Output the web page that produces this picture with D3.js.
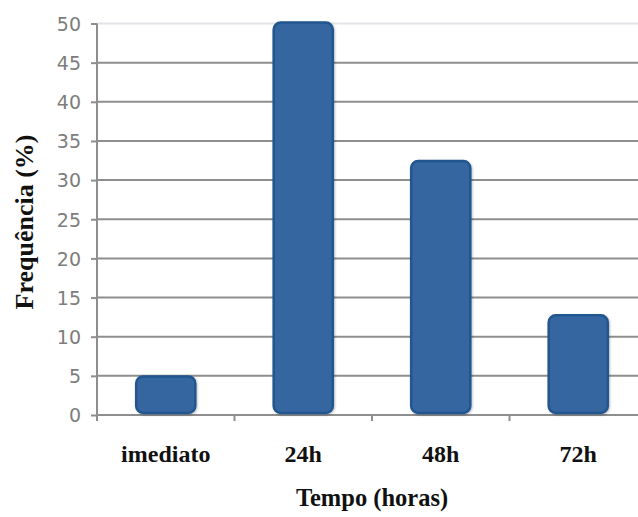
<!DOCTYPE html>
<html>
<head>
<meta charset="utf-8">
<script src="https://cdn.jsdelivr.net/npm/d3@7"></script>
<style>
  html, body { margin: 0; padding: 0; background: #ffffff; }
  svg { display: block; }
</style>
</head>
<body>
<svg id="chart" width="638" height="517"></svg>
<script>
// Frequency (%) by time after the event
const categories = ["imediato", "24h", "48h", "72h"];
const frequency = [4.8, 50, 32.3, 12.6];
const yTicks = [0, 5, 10, 15, 20, 25, 30, 35, 40, 45, 50];
const xTitle = "Tempo (horas)";
const yTitle = "Frequência (%)";

const svg = d3.select("#chart");

const plotLeft = 97, plotRight = 647, plotTop = 23.5, plotBottom = 415;

const x = d3.scaleBand()
  .domain(categories)
  .range([plotLeft, plotRight])
  .paddingInner(0.57)
  .paddingOuter(0.285);

const y = d3.scaleLinear()
  .domain([0, 50])
  .range([plotBottom, plotTop]);

const gridColor = "#8e8e8e";

// horizontal gridlines (top one is drawn faint)
svg.append("g")
  .selectAll("line")
  .data(yTicks.filter(d => d > 0))
  .join("line")
  .attr("x1", plotLeft)
  .attr("x2", plotRight)
  .attr("y1", d => y(d))
  .attr("y2", d => y(d))
  .attr("stroke", d => d === 50 ? "#e2e4e8" : gridColor)
  .attr("stroke-width", 2);

// y axis
const yAxis = svg.append("g")
  .attr("transform", `translate(${plotLeft},0)`)
  .call(d3.axisLeft(y).tickValues(yTicks).tickSize(6).tickPadding(10));
yAxis.select(".domain").attr("stroke", gridColor).attr("stroke-width", 2)
  .attr("d", `M0,${plotTop}V${plotBottom + 6}`);
yAxis.selectAll(".tick line").attr("stroke", gridColor).attr("stroke-width", 2);
yAxis.selectAll(".tick text")
  .attr("fill", "#7d7d7d")
  .style("font-family", "'DejaVu Sans', sans-serif")
  .style("font-size", "19px")
  .attr("dy", "0.36em");

// x axis baseline with separators between categories
const step = x.step();
svg.append("line")
  .attr("x1", plotLeft).attr("x2", plotRight)
  .attr("y1", y(0)).attr("y2", y(0))
  .attr("stroke", gridColor).attr("stroke-width", 2);
svg.append("g")
  .selectAll("line")
  .data(categories.slice(1))
  .join("line")
  .attr("x1", d => x(d) - (step - x.bandwidth()) / 2)
  .attr("x2", d => x(d) - (step - x.bandwidth()) / 2)
  .attr("y1", y(0))
  .attr("y2", y(0) + 6)
  .attr("stroke", gridColor)
  .attr("stroke-width", 2);

// soft drop shadow for bars
const defs = svg.append("defs");
const f = defs.append("filter").attr("id", "shadow")
  .attr("x", "-20%").attr("y", "-20%").attr("width", "140%").attr("height", "140%");
f.append("feDropShadow").attr("dx", 1).attr("dy", 1).attr("stdDeviation", 1.2)
  .attr("flood-color", "#000").attr("flood-opacity", 0.25);

// bars
svg.append("g")
  .selectAll("rect")
  .data(categories.map((c, i) => ({ c, v: frequency[i] })))
  .join("rect")
  .attr("x", d => x(d.c))
  .attr("width", x.bandwidth())
  .attr("y", d => y(d.v) - 1)
  .attr("height", d => y(0) - y(d.v) - 1)
  .attr("rx", 7)
  .attr("ry", 7)
  .attr("fill", "#3566a0")
  .attr("stroke", "#23568f")
  .attr("stroke-width", 2.5)
  .attr("filter", "url(#shadow)");

// category labels
svg.append("g")
  .selectAll("text")
  .data(categories)
  .join("text")
  .attr("x", d => x(d) + x.bandwidth() / 2)
  .attr("y", 462)
  .attr("text-anchor", "middle")
  .style("font-family", "'Liberation Serif', 'Times New Roman', serif")
  .style("font-weight", "bold")
  .style("font-size", "24px")
  .attr("fill", "#111")
  .text(d => d);

// axis titles
svg.append("text")
  .attr("x", 372)
  .attr("y", 506)
  .attr("text-anchor", "middle")
  .style("font-family", "'Liberation Serif', 'Times New Roman', serif")
  .style("font-weight", "bold")
  .style("font-size", "24.5px")
  .attr("fill", "#111")
  .text(xTitle);

svg.append("text")
  .attr("transform", "translate(33,222) rotate(-90)")
  .attr("text-anchor", "middle")
  .style("font-family", "'Liberation Serif', 'Times New Roman', serif")
  .style("font-weight", "bold")
  .style("font-size", "26px")
  .attr("fill", "#111")
  .text(yTitle);
</script>
</body>
</html>
